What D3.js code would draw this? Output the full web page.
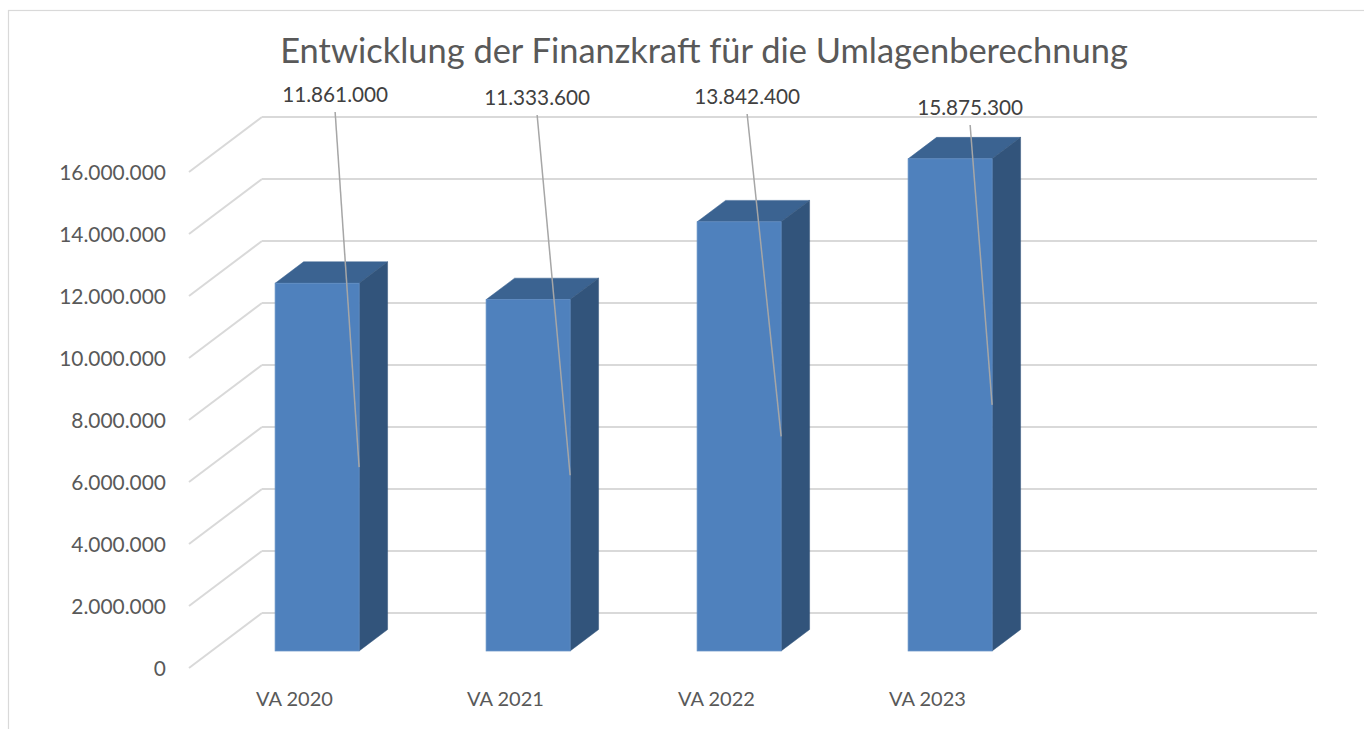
<!DOCTYPE html>
<html>
<head>
<meta charset="utf-8">
<script src="https://cdn.jsdelivr.net/npm/d3@7"></script>
<style>
  html, body { margin: 0; padding: 0; background: #fff; }
  svg { display: block; font-family: Lato, "Open Sans", sans-serif; }
</style>
</head>
<body>
<svg id="chart" width="1364" height="729"></svg>
<script>
// ---- data ----
const title = "Entwicklung der Finanzkraft für die Umlagenberechnung";
const categories = ["VA 2020", "VA 2021", "VA 2022", "VA 2023"];
const values = [11861000, 11333600, 13842400, 15875300];
const tickValues = [0, 2000000, 4000000, 6000000, 8000000, 10000000, 12000000, 14000000, 16000000];
const slotCount = 5; // chart range includes one empty category slot

// ---- layout ----
const W = 1364, H = 729;
const frontLeft = 189, frontRight = 1244, floorFrontY = 668;
const depthDX = 73, depthDY = -55;      // floor depth offset (front -> back wall)
const barFront = 0.31, barBack = 0.70;  // fraction of depth occupied by bars
const barWidthFrac = 0.398;
const labelOffsets = [[18, 94], [9, 97], [8, 96], [20, 107]]; // manual label placement (dx from bar centre, y)

const fmt = v => d3.format(",.0f")(v).replace(/,/g, ".");

const svg = d3.select("#chart");
const textColor = "#595959";
const gridColor = "#D9D9D9";

// chart border
svg.append("rect").attr("x", 8.5).attr("y", 10.5).attr("width", 1400).attr("height", 800)
  .attr("fill", "none").attr("stroke", gridColor).attr("stroke-width", 1.2);

const x = d3.scaleBand().domain(d3.range(slotCount)).range([frontLeft, frontRight]);
const yH = d3.scaleLinear().domain([0, 16000000]).range([0, 496]);

function fit(sel, target) {
  sel.each(function() {
    const t = d3.select(this);
    const fs = parseFloat(t.attr("font-size"));
    const w = this.getComputedTextLength();
    if (w > 0) t.attr("font-size", fs * target / w);
  });
}

// gridlines: back wall + left-side diagonal
const g = svg.append("g");
tickValues.forEach(v => {
  const yf = floorFrontY - yH(v);
  const yb = yf + depthDY;
  g.append("line")
    .attr("x1", frontLeft).attr("y1", yf).attr("x2", frontLeft + depthDX).attr("y2", yb)
    .attr("stroke", gridColor).attr("stroke-width", 2);
  g.append("line")
    .attr("x1", frontLeft + depthDX).attr("y1", yb)
    .attr("x2", frontRight + depthDX).attr("y2", yb)
    .attr("stroke", gridColor).attr("stroke-width", 2);
});

// y tick labels
svg.append("g").selectAll("text").data(tickValues).join("text")
  .attr("x", 166).attr("y", v => floorFrontY - yH(v) + 7.5)
  .attr("text-anchor", "end").attr("fill", textColor).attr("font-size", 20)
  .text(fmt)
  .call(s => s.filter(v => v === 16000000).call(fit, 107))
  .call(s => {
    const fs = s.filter(v => v === 16000000).attr("font-size");
    s.attr("font-size", fs);
  });

// bars
const bars = svg.append("g");
values.forEach((v, i) => {
  const bw = x.bandwidth() * barWidthFrac;
  const x0 = x(i) + (x.bandwidth() - bw) / 2 + depthDX * barFront;
  const x1 = x0 + bw;
  const yBot = floorFrontY + depthDY * barFront;
  const yTop = yBot - yH(v);
  const ddx = depthDX * (barBack - barFront), ddy = depthDY * (barBack - barFront);
  // top face
  bars.append("path")
    .attr("d", `M${x0},${yTop}L${x0 + ddx},${yTop + ddy}L${x1 + ddx},${yTop + ddy}L${x1},${yTop}Z`)
    .attr("fill", "#3B6391").attr("stroke", "#3B6391").attr("stroke-width", 0.5);
  // side face
  bars.append("path")
    .attr("d", `M${x1},${yTop}L${x1 + ddx},${yTop + ddy}L${x1 + ddx},${yBot + ddy}L${x1},${yBot}Z`)
    .attr("fill", "#32547B").attr("stroke", "#32547B").attr("stroke-width", 0.5);
  // front face
  bars.append("rect")
    .attr("x", x0).attr("y", yTop).attr("width", bw).attr("height", yH(v))
    .attr("fill", "#4F81BD").attr("stroke", "#5E8CC3").attr("stroke-width", 0.8);

  // data label + leader line
  const [ldx, ly] = labelOffsets[i];
  const lx = (x0 + x1) / 2 + ldx;
  svg.append("line")
    .attr("x1", lx).attr("y1", ly + 18)
    .attr("x2", x1).attr("y2", (yTop + yBot) / 2)
    .attr("stroke", "#A6A6A6").attr("stroke-width", 1.5);
  svg.append("text").attr("class", "dlabel")
    .attr("x", lx).attr("y", ly + 7.5)
    .attr("text-anchor", "middle").attr("fill", "#404040").attr("font-size", 20)
    .text(fmt(v));
});
svg.selectAll("text.dlabel").call(fit, 106);

// category labels
svg.append("g").selectAll("text").data(categories).join("text")
  .attr("x", (d, i) => x(i) + x.bandwidth() / 2)
  .attr("y", 706)
  .attr("text-anchor", "middle").attr("fill", textColor).attr("font-size", 20)
  .text(d => d)
  .call(fit, 77);

// title
svg.append("text")
  .attr("x", 704).attr("y", 63)
  .attr("text-anchor", "middle").attr("fill", textColor).attr("font-size", 31)
  .text(title)
  .call(fit, 848);
</script>
</body>
</html>
